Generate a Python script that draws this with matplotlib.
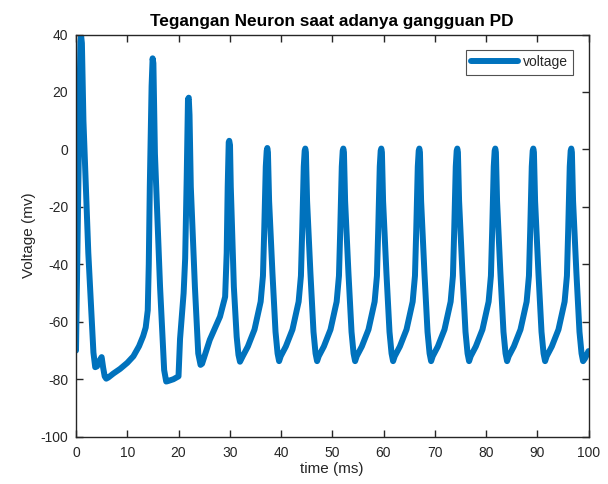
import matplotlib
matplotlib.use("Agg")
import matplotlib.pyplot as plt

plt.rcParams['font.family'] = ['Liberation Sans', 'DejaVu Sans']
plt.rcParams['axes.unicode_minus'] = False

# Time (ms) and voltage (mV)
time_ms = [
    # onset and irregular spikes
    0.0, 0.85, 1.0, 1.15, 1.45, 2.4, 3.4, 3.75, 4.1, 4.6, 5.0, 5.3, 5.6, 5.9, 6.3,
    7.3, 8.6, 10.0, 11.2, 12.3, 13.1, 13.6, 14.0, 14.2, 14.4, 14.75, 14.95, 15.1,
    15.4, 16.4, 17.2, 17.6, 18.0, 19.0, 20.0, 20.3, 20.6, 21.0, 21.3, 21.6, 21.85,
    22.0, 22.15, 22.4, 23.2, 23.85, 24.3, 24.6, 26.1, 28.1, 29.1, 29.4, 29.6, 29.8,
    29.9, 30.05, 30.2, 30.8, 31.35, 31.7, 32.0,
    # regular spiking
    32.53, 33.53, 34.83, 36.03, 36.48, 36.73, 37.03, 37.21, 37.33, 37.45, 37.68, 38.33, 38.93, 39.33, 39.63,
    39.94, 40.94, 42.24, 43.44, 43.89, 44.14, 44.44, 44.62, 44.74, 44.86, 45.09, 45.74, 46.34, 46.74, 47.04,
    47.36, 48.36, 49.66, 50.86, 51.31, 51.56, 51.86, 52.04, 52.16, 52.28, 52.51, 53.16, 53.76, 54.16, 54.46,
    54.77, 55.77, 57.07, 58.27, 58.72, 58.97, 59.27, 59.45, 59.57, 59.69, 59.92, 60.57, 61.17, 61.57, 61.87,
    62.19, 63.19, 64.49, 65.69, 66.14, 66.39, 66.69, 66.87, 66.99, 67.11, 67.34, 67.99, 68.59, 68.99, 69.29,
    69.60, 70.60, 71.90, 73.10, 73.55, 73.80, 74.10, 74.28, 74.40, 74.52, 74.75, 75.40, 76.00, 76.40, 76.70,
    77.01, 78.01, 79.31, 80.51, 80.96, 81.21, 81.51, 81.69, 81.81, 81.93, 82.16, 82.81, 83.41, 83.81, 84.11,
    84.43, 85.43, 86.73, 87.93, 88.38, 88.63, 88.93, 89.11, 89.23, 89.35, 89.58, 90.23, 90.83, 91.23, 91.53,
    91.84, 92.84, 94.14, 95.34, 95.79, 96.04, 96.34, 96.52, 96.64, 96.76, 96.99, 97.64, 98.24, 98.64, 98.94,
    99.3, 100.0,
]

voltage_mv = [
    -70.0, 37.0, 39.5, 37.0, 10.0, -36.0, -70.7, -75.8, -75.5, -73.5, -72.3, -76.0, -79.0, -79.8, -79.4,
    -78.0, -76.4, -74.3, -72.0, -68.5, -65.0, -62.0, -56.0, -40.0, -13.0, 22.0, 31.7, 30.0,
    -1.5, -47.8, -76.8, -80.8, -80.6, -80.0, -79.0, -66.0, -59.0, -50.0, -38.0, -10.0, 17.5,
    18.0, 12.0, -13.0, -47.8, -71.0, -75.0, -74.6, -66.3, -58.2, -51.3, -36.2, -13.0, 2.5,
    3.0, 1.5, -13.0, -47.8, -65.2, -71.5, -73.9,
    -72.0, -68.6, -62.7, -53.0, -44.0, -28.0, -6.0, -0.5, 0.5, -1.0, -18.0, -43.0, -63.5, -71.0, -73.7,
    -72.0, -68.6, -62.7, -53.0, -44.0, -28.0, -6.0, -0.5, 0.3, -1.0, -18.0, -43.0, -63.5, -71.0, -73.7,
    -72.0, -68.6, -62.7, -53.0, -44.0, -28.0, -6.0, -0.5, 0.3, -1.0, -18.0, -43.0, -63.5, -71.0, -73.7,
    -72.0, -68.6, -62.7, -53.0, -44.0, -28.0, -6.0, -0.5, 0.3, -1.0, -18.0, -43.0, -63.5, -71.0, -73.7,
    -72.0, -68.6, -62.7, -53.0, -44.0, -28.0, -6.0, -0.5, 0.3, -1.0, -18.0, -43.0, -63.5, -71.0, -73.7,
    -72.0, -68.6, -62.7, -53.0, -44.0, -28.0, -6.0, -0.5, 0.3, -1.0, -18.0, -43.0, -63.5, -71.0, -73.7,
    -72.0, -68.6, -62.7, -53.0, -44.0, -28.0, -6.0, -0.5, 0.3, -1.0, -18.0, -43.0, -63.5, -71.0, -73.7,
    -72.0, -68.6, -62.7, -53.0, -44.0, -28.0, -6.0, -0.5, 0.3, -1.0, -18.0, -43.0, -63.5, -71.0, -73.7,
    -72.0, -68.6, -62.7, -53.0, -44.0, -28.0, -6.0, -0.5, 0.3, -1.0, -18.0, -43.0, -63.5, -71.0, -73.7,
    -72.8, -70.2,
]

x_ticks = list(range(0, 101, 10))
y_ticks = list(range(-100, 41, 20))

title_text = "Tegangan Neuron saat adanya gangguan PD"
x_label = "time (ms)"
y_label = "Voltage (mv)"
legend_label = "voltage"

fig = plt.figure(figsize=(6.08, 4.84), dpi=100)
ax = fig.add_axes([76 / 608, (484 - 436.7) / 484, 512.5 / 608, 402.2 / 484])

ax.plot(time_ms, voltage_mv, color="#0072BD", linewidth=4.3,
        solid_joinstyle="round", solid_capstyle="round", label=legend_label)

ax.set_xlim(0, 100)
ax.set_ylim(-100, 40)
ax.set_xticks(x_ticks)
ax.set_yticks(y_ticks)

axis_color = "#262626"
for s in ax.spines.values():
    s.set_color(axis_color)
    s.set_linewidth(1.0)
ax.tick_params(direction="in", length=5, width=1.0, color=axis_color,
               labelcolor=axis_color, labelsize=10, top=True, right=True)
ax.tick_params(axis="x", pad=7)
ax.tick_params(axis="y", pad=5.5)

ax.set_title(title_text, fontsize=12.4, fontweight="bold", color="black", pad=6)
ax.set_xlabel(x_label, fontsize=11, color=axis_color, labelpad=1)
ax.set_ylabel(y_label, fontsize=11, color=axis_color, labelpad=3)

leg = ax.legend(loc="upper right", fontsize=10, frameon=True, fancybox=False,
                handlelength=3.4, borderpad=0.4, handletextpad=0.3,
                borderaxespad=1.1)
leg.get_frame().set_edgecolor(axis_color)
leg.get_frame().set_linewidth(0.8)
for t in leg.get_texts():
    t.set_color(axis_color)

fig.savefig("out.png", dpi=100)
